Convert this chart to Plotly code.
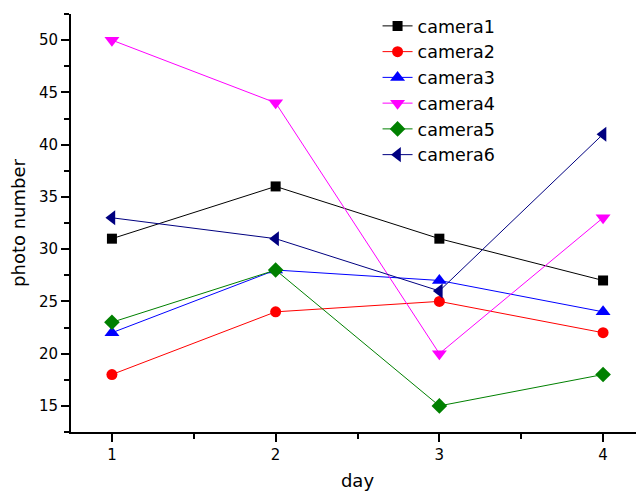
import plotly.graph_objects as go

days = [1, 2, 3, 4]
camera1 = [31, 36, 31, 27]
camera2 = [18, 24, 25, 22]
camera3 = [22, 28, 27, 24]
camera4 = [50, 44, 20, 33]
camera5 = [23, 28, 15, 18]
camera6 = [33, 31, 26, 41]

series = [
    ("camera1", camera1, "#000000", "square", 10),
    ("camera2", camera2, "#ff0000", "circle", 11),
    ("camera3", camera3, "#0000ff", "triangle-up", 13),
    ("camera4", camera4, "#ff00ff", "triangle-down", 13),
    ("camera5", camera5, "#008000", "diamond", 12),
    ("camera6", camera6, "#000080", "triangle-left", 13),
]

FONT = "DejaVu Sans"

fig = go.Figure()
for name, vals, color, sym, sz in series:
    fig.add_trace(go.Scatter(
        x=days, y=vals, name=name, mode="lines+markers",
        line=dict(color=color, width=1),
        marker=dict(symbol=sym, size=sz, color=color, line=dict(width=0)),
    ))

# page body has an 8px default margin, so the figure is sized to fit 644x491
fig.update_layout(
    width=636, height=483,
    margin=dict(l=63, r=0, t=6, b=57),
    paper_bgcolor="white", plot_bgcolor="white",
    font=dict(family=FONT, color="black"),
    showlegend=True,
    legend=dict(
        x=0.535, y=1.0145, xanchor="left", yanchor="top",
        font=dict(family=FONT, size=17.5, color="black"),
        bgcolor="rgba(0,0,0,0)",
    ),
)
fig.update_xaxes(
    range=[0.75, 4.25], tickvals=days, ticktext=["1", "2", "3", "4"],
    showgrid=False, zeroline=False, showline=True, linecolor="black", linewidth=2,
    ticks="outside", ticklen=8, tickwidth=1.5, tickcolor="black",
    tickfont=dict(family=FONT, size=15),
    minor=dict(tickvals=[1.5, 2.5, 3.5], ticks="outside", ticklen=5, tickwidth=1.5, tickcolor="black"),
    title=dict(text="day", font=dict(family=FONT, size=18), standoff=14),
)
fig.update_yaxes(
    range=[12.5, 52.5], tickvals=[15, 20, 25, 30, 35, 40, 45, 50],
    showgrid=False, zeroline=False, showline=True, linecolor="black", linewidth=2,
    ticks="outside", ticklen=8, tickwidth=1.5, tickcolor="black",
    tickfont=dict(family=FONT, size=15),
    minor=dict(tickvals=[12.5, 17.5, 22.5, 27.5, 32.5, 37.5, 42.5, 47.5, 52.5], ticks="outside",
               ticklen=5, tickwidth=1.5, tickcolor="black"),
    title=dict(text="photo number", font=dict(family=FONT, size=18), standoff=12),
)

fig.write_html("out.html")
